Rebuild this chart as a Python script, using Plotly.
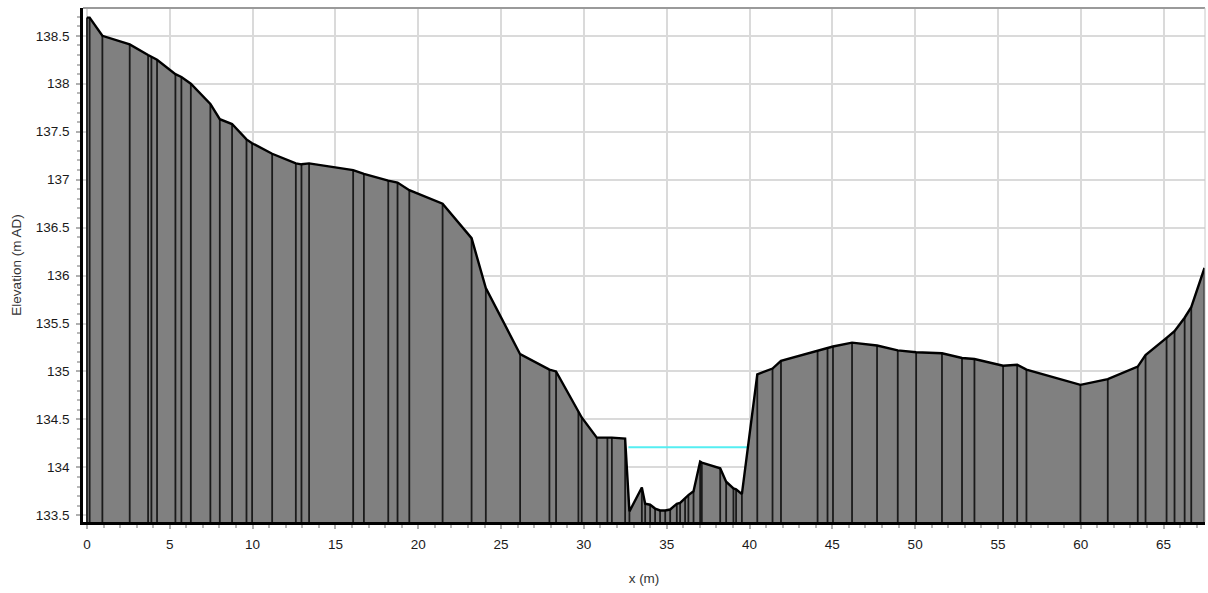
import plotly.graph_objects as go

# Cross-section profile (chainage in m, elevation in m AD)
chainage = [0.0, 0.16, 0.93, 2.58, 3.69, 3.89, 4.23, 5.34, 5.70, 6.27, 7.45, 8.02, 8.76,
            9.63, 9.97, 11.18, 12.61, 12.95, 13.41, 16.07, 16.72, 18.19, 18.75, 19.46,
            21.47, 23.22, 24.08, 26.15, 27.92, 28.32, 29.67, 29.87, 30.78, 31.42, 31.69,
            32.49, 32.75, 33.50, 33.70, 34.00, 34.30, 34.60, 34.91, 35.21, 35.61, 35.81,
            36.11, 36.31, 36.62, 37.02, 37.12, 38.23, 38.59, 39.03, 39.19, 39.54, 40.47,
            41.39, 41.90, 44.11, 44.71, 45.04, 46.19, 47.70, 48.95, 50.06, 51.62, 52.83,
            53.58, 55.31, 56.16, 56.72, 59.98, 61.63, 63.44, 63.91, 65.18, 65.66, 66.27,
            66.67, 67.47]
elevation = [138.69, 138.69, 138.50, 138.41, 138.30, 138.28, 138.25, 138.10, 138.07,
             138.00, 137.79, 137.63, 137.58, 137.42, 137.38, 137.27, 137.17, 137.16,
             137.17, 137.10, 137.06, 136.99, 136.97, 136.89, 136.75, 136.39, 135.87,
             135.18, 135.02, 135.00, 134.58, 134.52, 134.31, 134.31, 134.31, 134.30,
             133.54, 133.79, 133.62, 133.61, 133.57, 133.55, 133.55, 133.56, 133.62,
             133.63, 133.68, 133.71, 133.75, 134.06, 134.05, 133.99, 133.85, 133.78,
             133.77, 133.72, 134.97, 135.03, 135.11, 135.22, 135.25, 135.26, 135.30,
             135.27, 135.22, 135.20, 135.19, 135.14, 135.13, 135.06, 135.07, 135.02,
             134.86, 134.92, 135.05, 135.17, 135.35, 135.42, 135.56, 135.67, 136.08]

water_x = [32.69, 39.94]
water_level = 134.21

x_range = [-0.24, 67.5]
y_range = [133.43, 138.79]

x_tickvals = [0, 5, 10, 15, 20, 25, 30, 35, 40, 45, 50, 55, 60, 65]
x_ticktext = ["0", "5", "10", "15", "20", "25", "30", "35", "40", "45", "50", "55", "60", "65"]
y_tickvals = [133.5, 134, 134.5, 135, 135.5, 136, 136.5, 137, 137.5, 138, 138.5]
y_ticktext = ["133.5", "134", "134.5", "135", "135.5", "136", "136.5", "137", "137.5", "138", "138.5"]

FONT = "Liberation Sans, Arial, sans-serif"

fig = go.Figure()

# filled ground
fig.add_trace(go.Scatter(x=chainage, y=elevation, mode="lines", fill="tozeroy",
                         fillcolor="#808080", line=dict(width=0, color="#808080"),
                         hoverinfo="skip", showlegend=False))

# vertical lines at each survey point
vx, vy = [], []
for xi, yi in zip(chainage, elevation):
    vx += [xi, xi, None]
    vy += [y_range[0], yi, None]
fig.add_trace(go.Scatter(x=vx, y=vy, mode="lines",
                         line=dict(color="#1a1a1a", width=1.8),
                         hoverinfo="skip", showlegend=False))

# water level
fig.add_trace(go.Scatter(x=water_x, y=[water_level, water_level], mode="lines",
                         line=dict(color="#55eef2", width=2),
                         hoverinfo="skip", showlegend=False))

# profile outline
fig.add_trace(go.Scatter(x=chainage, y=elevation, mode="lines",
                         line=dict(color="#000000", width=2.4),
                         showlegend=False))

fig.update_layout(
    width=1208, height=593,
    margin=dict(l=83, r=3, t=8, b=71),
    paper_bgcolor="white", plot_bgcolor="white",
    font=dict(family=FONT, size=13.5, color="#1a1a1a"),
    xaxis=dict(range=x_range, tickvals=x_tickvals, ticktext=x_ticktext,
               automargin=False,
               showgrid=True, gridcolor="#dadada", gridwidth=1.6,
               zeroline=False, showline=True, linecolor="#000", linewidth=3,
               ticks="outside", ticklen=4, tickcolor="#b0b0b0", tickwidth=1.5,
               ticklabelstandoff=4,
               minor=dict(dtick=1, tick0=0, ticks="outside", ticklen=3,
                          tickcolor="#b8b8b8", tickwidth=1.5, showgrid=False),
               title=dict(text="x (m)", font=dict(size=13.5, color="#333"), standoff=23)),
    yaxis=dict(range=y_range, tickvals=y_tickvals, ticktext=y_ticktext,
               automargin=False,
               showgrid=True, gridcolor="#dadada", gridwidth=1.6,
               zeroline=False, showline=True, linecolor="#000", linewidth=2.5,
               ticks="outside", ticklen=4, tickcolor="#b0b0b0", tickwidth=1.5,
               ticklabelstandoff=4,
               minor=dict(dtick=0.1, tick0=133.5, ticks="outside", ticklen=3,
                          tickcolor="#b8b8b8", tickwidth=1.5, showgrid=False),
               title=dict(text="Elevation (m AD)", font=dict(size=13.5, color="#333"), standoff=12)),
    shapes=[
        dict(type="line", xref="paper", yref="paper", x0=0, x1=1, y0=1, y1=1,
             line=dict(color="#9a9a9a", width=2)),
        dict(type="line", xref="paper", yref="paper", x0=1, x1=1, y0=0, y1=1,
             line=dict(color="#c8c8c8", width=1)),
    ],
)

fig.write_html("out.html", config={"displayModeBar": False},
               post_script="document.body.style.margin='0';document.body.style.overflow='hidden';")
